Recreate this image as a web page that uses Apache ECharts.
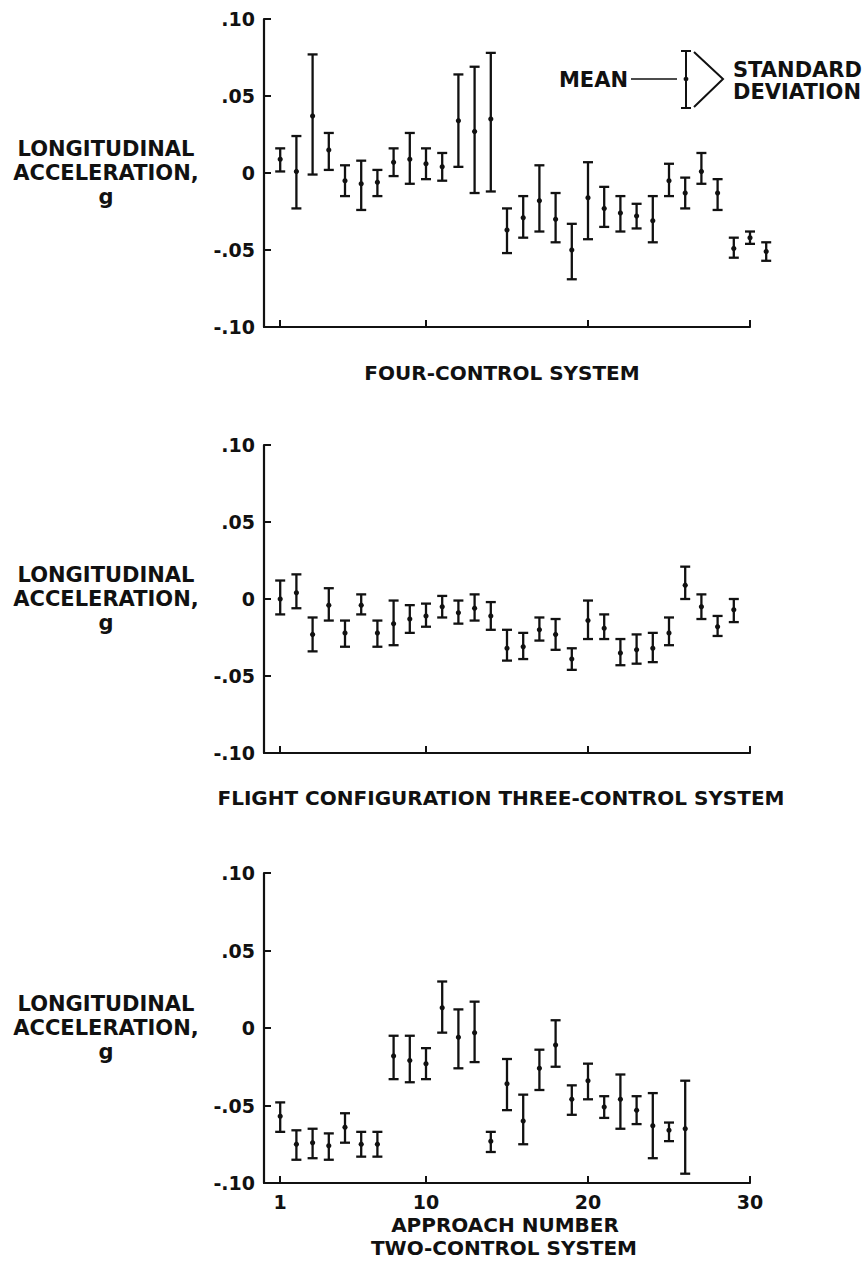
<!DOCTYPE html>
<html><head><meta charset="utf-8">
<script src="https://cdn.jsdelivr.net/npm/echarts@6/dist/echarts.min.js"></script>
<style>html,body{margin:0;padding:0;background:#fff}#c{width:867px;height:1262px}</style>
</head><body><div id="c"></div>
<script>
// ---- data ----
const fourX    = [1,2,3,4,5,6,7,8,9,10,11,12,13,14,15,16,17,18,19,20,21,22,23,24,25,26,27,28,29,30,31];
const fourMean = [0.009,0.001,0.037,0.015,-0.005,-0.007,-0.006,0.007,0.009,0.006,0.004,0.034,0.027,0.035,-0.037,-0.029,-0.018,-0.030,-0.050,-0.016,-0.023,-0.026,-0.028,-0.031,-0.005,-0.013,0.001,-0.013,-0.049,-0.042,-0.051];
const fourLow  = [0.001,-0.023,-0.001,0.002,-0.015,-0.024,-0.015,-0.002,-0.007,-0.004,-0.005,0.004,-0.013,-0.012,-0.052,-0.042,-0.038,-0.045,-0.069,-0.043,-0.035,-0.038,-0.036,-0.045,-0.015,-0.023,-0.007,-0.024,-0.055,-0.046,-0.057];
const fourHigh = [0.016,0.024,0.077,0.026,0.005,0.008,0.002,0.016,0.026,0.016,0.013,0.064,0.069,0.078,-0.023,-0.015,0.005,-0.013,-0.033,0.007,-0.009,-0.015,-0.020,-0.015,0.006,-0.003,0.013,-0.004,-0.042,-0.038,-0.045];

const threeX    = [1,2,3,4,5,6,7,8,9,10,11,12,13,14,15,16,17,18,19,20,21,22,23,24,25,26,27,28,29];
const threeMean = [0.000,0.004,-0.023,-0.004,-0.022,-0.004,-0.022,-0.016,-0.013,-0.011,-0.005,-0.009,-0.006,-0.011,-0.032,-0.031,-0.020,-0.023,-0.039,-0.014,-0.019,-0.035,-0.033,-0.032,-0.022,0.009,-0.005,-0.018,-0.007];
const threeLow  = [-0.010,-0.006,-0.034,-0.014,-0.031,-0.010,-0.031,-0.030,-0.022,-0.018,-0.012,-0.016,-0.014,-0.020,-0.040,-0.039,-0.027,-0.033,-0.046,-0.026,-0.026,-0.043,-0.042,-0.041,-0.030,0.000,-0.013,-0.024,-0.015];
const threeHigh = [0.012,0.016,-0.012,0.007,-0.014,0.003,-0.014,-0.001,-0.004,-0.003,0.002,-0.001,0.003,-0.002,-0.020,-0.022,-0.012,-0.013,-0.032,-0.001,-0.010,-0.026,-0.023,-0.022,-0.012,0.021,0.003,-0.011,0.000];

const twoX    = [1,2,3,4,5,6,7,8,9,10,11,12,13,14,15,16,17,18,19,20,21,22,23,24,25,26];
const twoMean = [-0.057,-0.075,-0.074,-0.076,-0.064,-0.075,-0.075,-0.018,-0.021,-0.023,0.013,-0.006,-0.003,-0.073,-0.036,-0.060,-0.026,-0.011,-0.046,-0.034,-0.051,-0.046,-0.053,-0.063,-0.066,-0.065];
const twoLow  = [-0.067,-0.085,-0.084,-0.085,-0.074,-0.083,-0.083,-0.033,-0.035,-0.033,-0.003,-0.026,-0.022,-0.080,-0.053,-0.075,-0.040,-0.025,-0.056,-0.046,-0.058,-0.065,-0.062,-0.084,-0.073,-0.094];
const twoHigh = [-0.048,-0.066,-0.065,-0.068,-0.055,-0.067,-0.067,-0.005,-0.005,-0.013,0.030,0.012,0.017,-0.067,-0.020,-0.043,-0.014,0.005,-0.037,-0.023,-0.044,-0.030,-0.044,-0.042,-0.061,-0.034];

const yTickValues = [-0.10,-0.05,0,0.05,0.10];
const yTickLabels = ['-.10','-.05','0','.05','.10'];
const xTickValues = [1,10,20,30];
const xTickLabels = ['1','10','20','30'];
const yName = 'LONGITUDINAL\nACCELERATION,\ng';
const panelTitles = ['FOUR-CONTROL SYSTEM','FLIGHT CONFIGURATION THREE-CONTROL SYSTEM','APPROACH NUMBER','TWO-CONTROL SYSTEM'];
const legendTexts = ['MEAN','STANDARD\nDEVIATION'];

// ---- chart ----
const INK = '#111';
const FONT = '"DejaVu Sans", "Liberation Sans", sans-serif';
const chart = echarts.init(document.getElementById('c'), null, {renderer:'svg', width:867, height:1262});

const grids = [
  {left:264, top:19,  width:486, height:308},
  {left:264, top:445, width:486, height:308},
  {left:264, top:873, width:486, height:310}
];

function xAxisFor(i, showLabels){
  return {
    type:'value', gridIndex:i, min:0, max:30,
    axisLine:{show:true, onZero:false, lineStyle:{color:INK, width:2.2}},
    axisTick:{show:true, inside:true, length:7, customValues:xTickValues, lineStyle:{color:INK, width:2}},
    axisLabel:{show:showLabels, customValues:xTickValues, margin:9,
      formatter:v => xTickLabels[xTickValues.indexOf(v)],
      color:INK, fontFamily:FONT, fontWeight:'bold', fontSize:19},
    splitLine:{show:false}
  };
}
function yAxisFor(i){
  return {
    type:'value', gridIndex:i, min:-0.1, max:0.1, interval:0.05,
    axisLine:{show:true, lineStyle:{color:INK, width:2.2}},
    axisTick:{show:true, inside:true, length:7, lineStyle:{color:INK, width:2}},
    axisLabel:{margin:9, color:INK, fontFamily:FONT, fontWeight:'bold', fontSize:19,
      formatter:v => { const k = yTickValues.findIndex(t => Math.abs(t - v) < 1e-9); return k >= 0 ? yTickLabels[k] : ''; }},
    splitLine:{show:false},
    name:yName, nameLocation:'middle', nameRotate:0, nameGap:158,
    nameTextStyle:{align:'center', verticalAlign:'middle', color:INK, fontFamily:FONT, fontWeight:'bold', fontSize:21, lineHeight:24}
  };
}

function renderErr(params, api){
  const x = api.value(0), m = api.value(1), lo = api.value(2), hi = api.value(3);
  const pH = api.coord([x, hi]), pL = api.coord([x, lo]), pM = api.coord([x, m]);
  const cw = 5;
  const st = {stroke:INK, lineWidth:2.3, fill:null};
  return {type:'group', children:[
    {type:'line', shape:{x1:pH[0], y1:pH[1], x2:pL[0], y2:pL[1]}, style:st},
    {type:'line', shape:{x1:pH[0]-cw, y1:pH[1], x2:pH[0]+cw, y2:pH[1]}, style:st},
    {type:'line', shape:{x1:pL[0]-cw, y1:pL[1], x2:pL[0]+cw, y2:pL[1]}, style:st},
    {type:'circle', shape:{cx:pM[0], cy:pM[1], r:2.6}, style:{fill:INK}}
  ]};
}
function series(i, xs, mean, low, high){
  return {type:'custom', xAxisIndex:i, yAxisIndex:i, clip:false, silent:true,
    renderItem:renderErr, encode:{x:0, y:[1,2,3]},
    data: xs.map((x,k) => [x, mean[k], low[k], high[k]])};
}

const tStyle = (text, x, y, size, align) => ({type:'text', silent:true,
  style:{text, x, y, align:align||'center', verticalAlign:'middle', fill:INK,
         font:'bold ' + (size||20) + 'px ' + FONT, lineHeight:22}});

chart.setOption({
  animation:false,
  backgroundColor:'#fff',
  grid:grids,
  xAxis:[xAxisFor(0,false), xAxisFor(1,false), xAxisFor(2,true)],
  yAxis:[yAxisFor(0), yAxisFor(1), yAxisFor(2)],
  series:[
    series(0, fourX, fourMean, fourLow, fourHigh),
    series(1, threeX, threeMean, threeLow, threeHigh),
    series(2, twoX, twoMean, twoLow, twoHigh)
  ],
  graphic:[
    tStyle(panelTitles[0], 502, 373, 20),
    tStyle(panelTitles[1], 501, 798, 20),
    tStyle(panelTitles[2], 505, 1225, 20),
    tStyle(panelTitles[3], 504, 1248, 20),
    // legend key
    tStyle(legendTexts[0], 628, 80, 21, 'right'),
    {type:'line', silent:true, shape:{x1:631, y1:79, x2:677, y2:79}, style:{stroke:INK, lineWidth:1.5}},
    {type:'line', silent:true, shape:{x1:686, y1:51, x2:686, y2:108}, style:{stroke:INK, lineWidth:2}},
    {type:'line', silent:true, shape:{x1:681, y1:51, x2:691, y2:51}, style:{stroke:INK, lineWidth:2}},
    {type:'line', silent:true, shape:{x1:681, y1:108, x2:691, y2:108}, style:{stroke:INK, lineWidth:2}},
    {type:'circle', silent:true, shape:{cx:686, cy:79, r:2.4}, style:{fill:INK}},
    {type:'polyline', silent:true, shape:{points:[[694,52],[723,79],[694,107]]}, style:{stroke:INK, lineWidth:2, fill:null}},
    tStyle(legendTexts[1], 733, 80.5, 21, 'left')
  ]
});
</script>
</body></html>
